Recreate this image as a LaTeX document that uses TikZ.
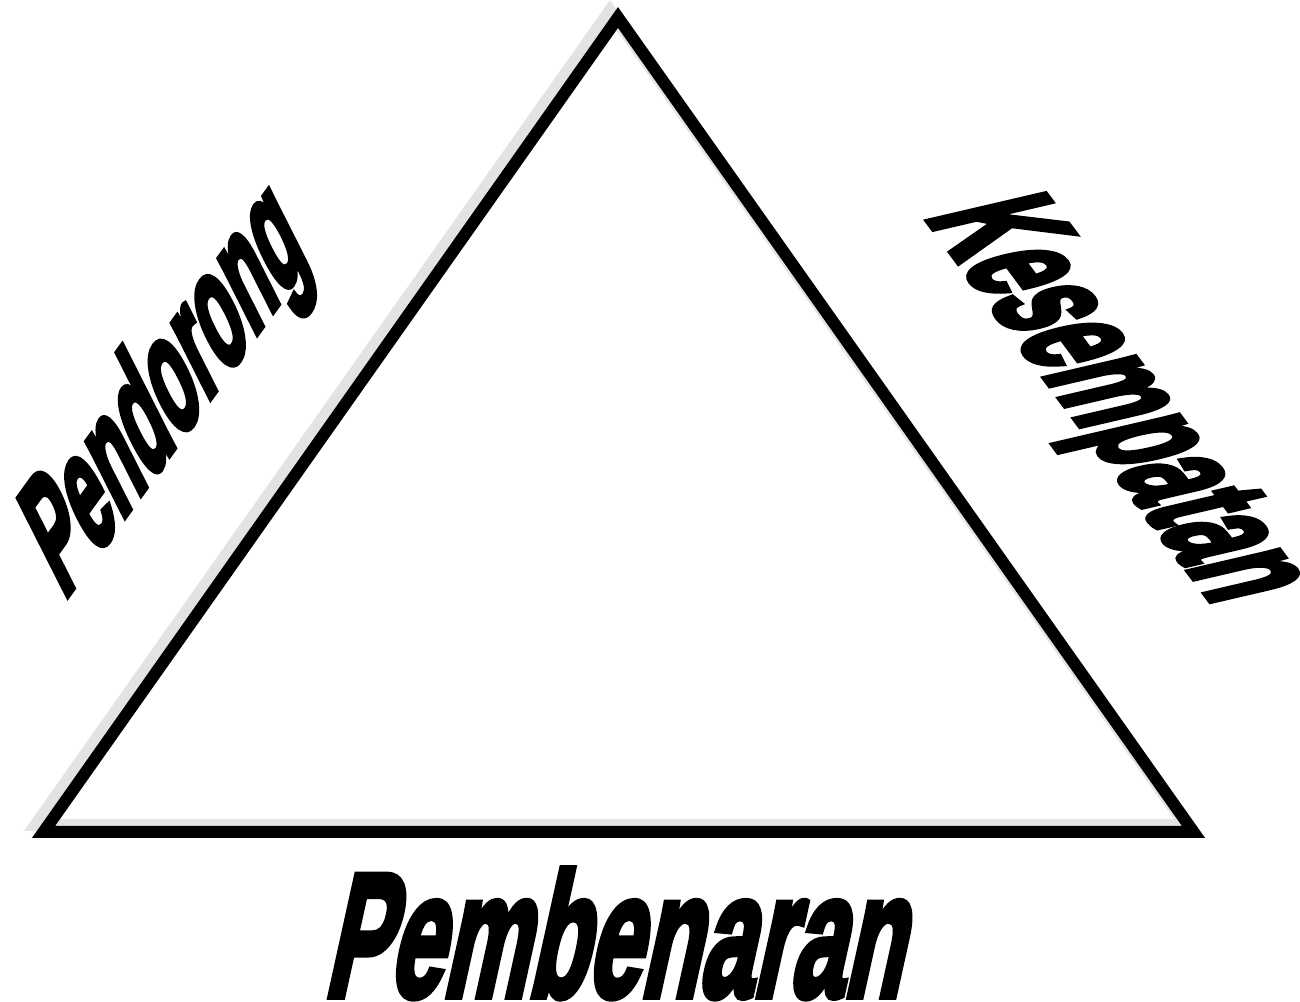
\documentclass[tikz,border=0pt]{standalone}
\usepackage{fontspec}
\setmainfont{Liberation Sans}
\newfontfamily\heavyfont{Liberation Sans}[BoldFeatures={FakeBold=4.5}]
\begin{document}
\begin{tikzpicture}[x=1pt,y=1pt,
  edge/.style={line width=12pt, line join=miter, miter limit=10, draw=black},
  shadowedge/.style={line width=12pt, line join=miter, miter limit=10, draw=black!11},
  word/.style={inner sep=0pt, anchor=base}]
\useasboundingbox[fill=white] (0,0) rectangle (1300,1001);
\coordinate (apex) at (618,983.5);
\coordinate (bl) at (43.5,169);
\coordinate (br) at (1193.5,169);
\draw[shadowedge] ([shift={(-8,7)}]apex) -- ([shift={(-8,7)}]bl) -- ([shift={(-8,7)}]br) -- cycle;
\draw[edge] (apex) -- (bl) -- (br) -- cycle;
\node[word, cm={0.2955,0.409,-0.45,0.89,(0,0)}] (pend) at (187,571)
  {\heavyfont\bfseries\fontsize{158}{158}\selectfont Pendorong};
\node[word, cm={0.2824,-0.3793,0.974,0.227,(0,0)}] (kes) at (1070,590)
  {\heavyfont\bfseries\fontsize{173}{173}\selectfont Kesempatan};
\node[word, cm={0.55,0,0.22,1,(0,0)}] (pemb) at (612,5)
  {\heavyfont\bfseries\fontsize{175}{175}\selectfont Pembenaran};
\end{tikzpicture}
\end{document}
